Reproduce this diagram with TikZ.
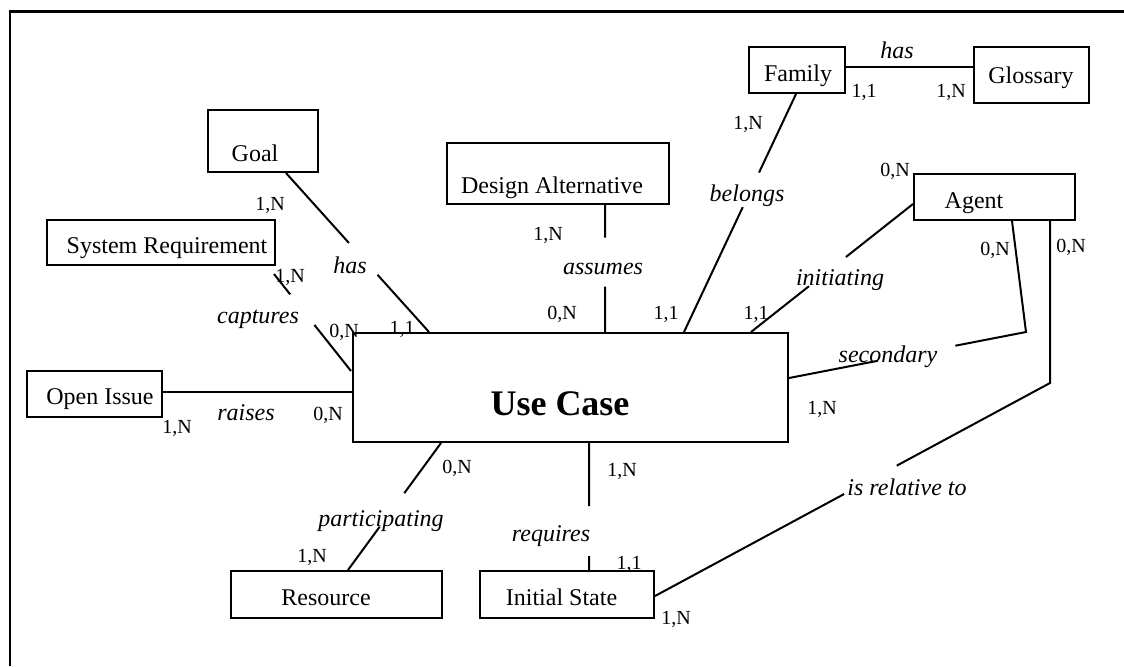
\documentclass[tikz,border=0pt]{standalone}
\usepackage{fontspec}
\setmainfont{Liberation Serif}
\usetikzlibrary{calc}
\begin{document}
\begin{tikzpicture}[x=0.5pt,y=-0.5pt,
  ent/.style 2 args={draw, line width=1pt, minimum width=#1*0.5pt, minimum height=#2*0.5pt, inner sep=0pt},
  etxt/.style={font=\fontsize{12}{14}\selectfont, text height=8.4pt, text depth=0pt, inner sep=0pt},
  rel/.style={font=\fontsize{12}{14}\selectfont\itshape, text height=8.4pt, text depth=0pt, inner sep=0pt},
  card/.style={font=\fontsize{10}{12}\selectfont, text height=7pt, text depth=0pt, inner sep=0pt},
  big/.style={font=\fontsize{18}{22}\selectfont\bfseries, text height=12.6pt, text depth=0pt, inner sep=0pt},
  conn/.style={line width=1pt},
  frame/.style={line width=1.4pt}
]
\useasboundingbox (0,0) rectangle (1124,666);
\draw[frame] (10,666) -- (10,11.5) -- (1124,11.5);

% entity boxes
\node[ent={110}{62}] (goal) at (263,141) {};
\node[ent={228}{45}] (sysreq) at (161,242.5) {};
\node[ent={135}{46}] (openissue) at (94.5,394) {};
\node[ent={222}{61}] (design) at (558,173.5) {};
\node[ent={96}{46}] (family) at (797,70) {};
\node[ent={115}{56}] (glossary) at (1031.5,75) {};
\node[ent={161}{46}] (agent) at (994.5,197) {};
\node[ent={435}{109}] (uc) at (570.5,387.5) {};
\node[ent={211}{47}] (resource) at (336.5,594.5) {};
\node[ent={174}{47}] (initstate) at (567,594.5) {};

% entity texts
\node[etxt] (goalT) at (255,153) {Goal};
\node[etxt] (sysreqT) at (167,245) {System Requirement};
\node[etxt] (openissueT) at (100,396) {Open Issue};
\node[etxt] (designT) at (552,185) {Design Alternative};
\node[etxt] (familyT) at (798,73) {Family};
\node[etxt] (glossaryT) at (1031,75) {Glossary};
\node[etxt] (agentT) at (974,200.5) {Agent};
\node[big] (ucT) at (560,403) {Use Case};
\node[etxt] (resourceT) at (326,597) {Resource};
\node[etxt] (initstateT) at (561.5,597) {Initial State};

% connection points
\coordinate (goalS) at ($(goal.south west)+(79,0)$);
\coordinate (ucN1) at ($(uc.north west)+(77,0)$);
\coordinate (srA) at ($(sysreq.south east)+(-2,8)$);
\coordinate (ucW1) at ($(uc.north west)+(-1,39)$);
\coordinate (oiE) at ($(openissue.south east)+(0,-26)$);
\coordinate (ucW2) at (oiE -| uc.west);
\coordinate (daS) at ($(design.south west)+(159,0)$);
\coordinate (ucN2) at (daS |- uc.north);
\coordinate (famS) at ($(family.south west)+(48,0)$);
\coordinate (ucN3) at ($(uc.north west)+(332,0)$);
\coordinate (famE) at ($(family.north east)+(0,21)$);
\coordinate (glosW) at (famE -| glossary.west);
\coordinate (ucN4) at ($(uc.north west)+(399,0)$);
\coordinate (agW) at ($(agent.north west)+(0,31)$);
\coordinate (agS1) at ($(agent.south west)+(99,0)$);
\coordinate (k1) at (1026,332);
\coordinate (ucE) at ($(uc.north east)+(0,46)$);
\coordinate (agS2) at ($(agent.south west)+(137,0)$);
\coordinate (k2) at (agS2 |- 0,383);
\coordinate (isE) at ($(initstate.north east)+(0,26)$);
\coordinate (ucS1) at ($(uc.south west)+(89,0)$);
\coordinate (resN) at ($(resource.north west)+(118,0)$);
\coordinate (ucS2) at ($(uc.south west)+(237,0)$);
\coordinate (isN) at (ucS2 |- initstate.north);

% connectors
\draw[conn] (goalS) -- ($(goalS)!0.44!(ucN1)$) ($(goalS)!0.64!(ucN1)$) -- (ucN1);
\draw[conn] (srA) -- ($(srA)!0.21!(ucW1)$) ($(srA)!0.525!(ucW1)$) -- (ucW1);
\draw[conn] (oiE) -- (ucW2);
\draw[conn] (daS) -- ($(daS)!0.256!(ucN2)$) ($(daS)!0.643!(ucN2)$) -- (ucN2);
\draw[conn] (famS) -- ($(famS)!0.33!(ucN3)$) ($(famS)!0.475!(ucN3)$) -- (ucN3);
\draw[conn] (famE) -- (glosW);
\draw[conn] (ucN4) -- ($(ucN4)!0.358!(agW)$) ($(ucN4)!0.586!(agW)$) -- (agW);
\draw[conn] (agS1) -- (k1) -- ($(k1)!0.298!(ucE)$) ($(k1)!0.626!(ucE)$) -- (ucE);
\draw[conn] (agS2) -- (k2) -- ($(k2)!0.388!(isE)$) ($(k2)!0.521!(isE)$) -- (isE);
\draw[conn] (ucS1) -- ($(ucS1)!0.395!(resN)$) ($(ucS1)!0.659!(resN)$) -- (resN);
\draw[conn] (ucS2) -- ($(ucS2)!0.496!(isN)$) ($(ucS2)!0.891!(isN)$) -- (isN);

% relation labels
\node[rel] (r1) at (350,265) {has};
\node[rel] (r2) at (258,315) {captures};
\node[rel] (r3) at (246,412) {raises};
\node[rel] (r4) at (603,266) {assumes};
\node[rel] (r5) at (747,193) {belongs};
\node[rel] (r6) at (897,50) {has};
\node[rel] (r7) at (840,277) {initiating};
\node[rel] (r8) at (888,354) {secondary};
\node[rel] (r9) at (907,487) {is relative to};
\node[rel] (r10) at (381,518) {participating};
\node[rel] (r11) at (551,533) {requires};

% cardinalities
\node[card] (c1) at (270,203) {1,N};
\node[card] (c2) at (402,327) {1,1};
\node[card] (c3) at (290,275) {1,N};
\node[card] (c4) at (344,330) {0,N};
\node[card] (c5) at (177,426) {1,N};
\node[card] (c6) at (328,413) {0,N};
\node[card] (c7) at (548,233) {1,N};
\node[card] (c8) at (562,312) {0,N};
\node[card] (c9) at (748,122) {1,N};
\node[card] (c10) at (666,312) {1,1};
\node[card] (c11) at (864,90) {1,1};
\node[card] (c12) at (951,90) {1,N};
\node[card] (c13) at (895,169) {0,N};
\node[card] (c14) at (756,312) {1,1};
\node[card] (c15) at (995,248) {0,N};
\node[card] (c16) at (822,407) {1,N};
\node[card] (c17) at (1071,245) {0,N};
\node[card] (c18) at (676,617) {1,N};
\node[card] (c19) at (457,466) {0,N};
\node[card] (c20) at (312,555) {1,N};
\node[card] (c21) at (622,469) {1,N};
\node[card] (c22) at (629,562) {1,1};
\end{tikzpicture}
\end{document}
